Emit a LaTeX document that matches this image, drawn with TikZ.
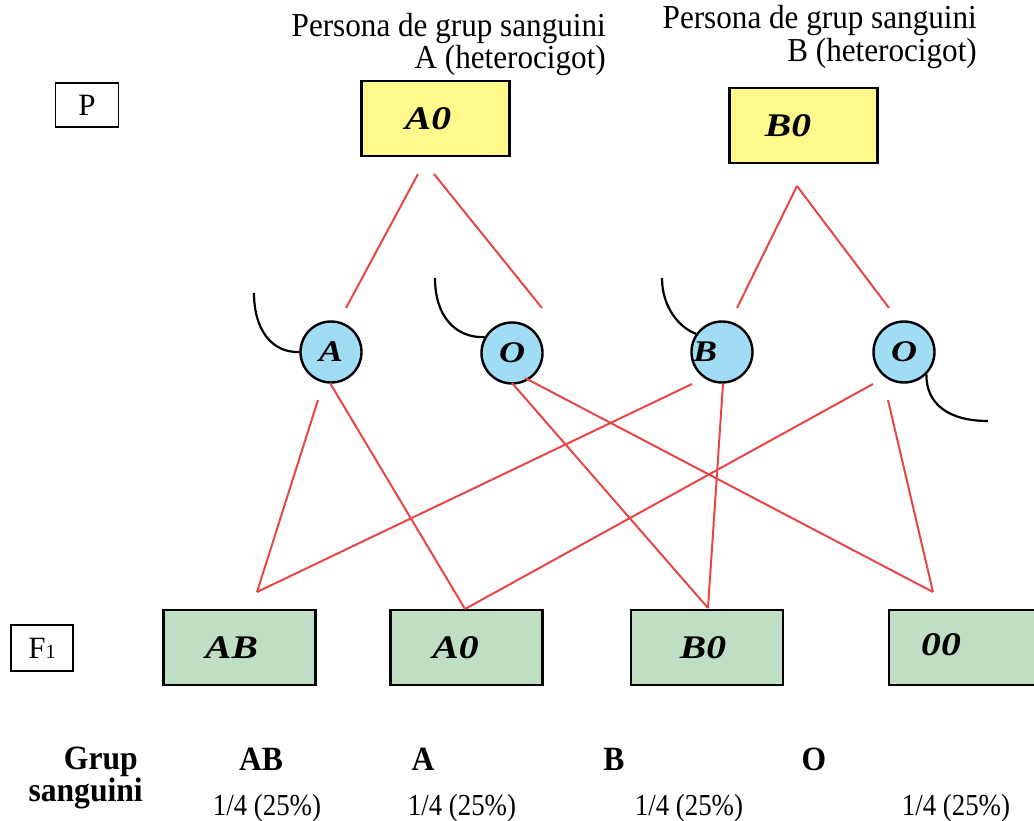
\documentclass[tikz,border=0pt]{standalone}
\usepackage{fontspec}
\setmainfont{Liberation Serif}[FakeStretch=0.88]
\newfontfamily\boxf{Liberation Serif}[FakeStretch=1.2]
\newfontfamily\plainf{Liberation Serif}
\newfontfamily\labf{Liberation Serif}[FakeStretch=0.93]
\definecolor{lred}{RGB}{230,70,70}
\definecolor{yel}{RGB}{255,249,140}
\definecolor{grn}{RGB}{192,222,196}
\definecolor{blu}{RGB}{160,221,245}
\begin{document}
\begin{tikzpicture}[x=1pt,y=-1pt,
  parent/.style={draw=black,line width=2.4pt,fill=yel,minimum width=148pt,minimum height=75pt,inner sep=0pt,font=\boxf\fontsize{33}{33}\selectfont\bfseries\itshape},
  child/.style={draw=black,line width=2.4pt,fill=grn,minimum width=152pt,minimum height=75pt,inner sep=0pt,font=\boxf\fontsize{33}{33}\selectfont\bfseries\itshape},
  gam/.style={circle,draw=black,line width=2.4pt,fill=blu,minimum size=61pt,inner sep=0pt,font=\boxf\fontsize{30}{30}\selectfont\bfseries\itshape},
  gen/.style={draw=black,line width=1.6pt,inner sep=0pt,font=\plainf\fontsize{31}{31}\selectfont},
  cross/.style={lred,line width=2pt},
  tail/.style={black,line width=2.2pt},
  lab/.style={inner sep=0pt,font=\labf\fontsize{33.5}{33.5}\selectfont},
  grp/.style={inner sep=0pt,font=\labf\fontsize{34}{34}\selectfont\bfseries},
  frac/.style={inner sep=0pt,font=\fontsize{30.5}{30.5}\selectfont}]
\useasboundingbox (0,0) rectangle (1034,821);
% generation labels
\node[gen,minimum width=63pt,minimum height=44pt] (P) at (87,105) {P};
\node[gen,minimum width=62pt,minimum height=46pt] (F) at (42,648) {F{\fontsize{20}{20}\selectfont 1}};
% parent descriptions
\node[lab,anchor=base east] (t1a) at (606,37) {Persona de grup sanguini};
\node[lab,anchor=base east] (t1b) at (606,69) {A (heterocigot)};
\node[lab,anchor=base east] (t2a) at (977,29) {Persona de grup sanguini};
\node[lab,anchor=base east] (t2b) at (977,62) {B (heterocigot)};
% parents
\node[parent] (pA) at (435.5,118.5) {\hspace*{-15pt}A0};
\node[parent] (pB) at (803.5,125.5) {\hspace*{-31pt}\raisebox{-4pt}{B0}};
% gametes
\node[gam] (gA) at (331,352) {A};
\node[gam] (gO1) at (512,353) {\raisebox{-3pt}{O}};
\node[gam] (gB) at (722,352) {\hspace*{-34pt}\raisebox{-2pt}{B}};
\node[gam] (gO2) at (904,352) {O};
% children
\node[child] (cAB) at (239.5,647.5) {\hspace*{-16pt}AB};
\node[child] (cA0) at (466.5,647.5) {\hspace*{-22pt}\raisebox{-2pt}{A0}};
\node[child] (cB0) at (707,647.5) {\hspace*{-8pt}B0};
\node[child,minimum width=146pt] (cOO) at (962,647.5) {\hspace*{-42pt}\raisebox{6pt}{00}};
% connection points
\coordinate (aL) at (418,174);
\coordinate (aR) at (434,174);
\coordinate (bT) at (797,186);
\coordinate (gAt) at (346,308);
\coordinate (gO1t) at (542,308);
\coordinate (gBt) at (737,308);
\coordinate (gO2t) at (889,308);
\coordinate (kAB) at (257,592);
\coordinate (kA0) at (465,609);
\coordinate (kB0) at (708,608);
\coordinate (kOO) at (933,592);
\coordinate (gAb1) at (318,400);
\coordinate (gAb2) at (330,383);
\coordinate (gO1b1) at (512,383);
\coordinate (gO1b2) at (525,378);
\coordinate (gBb1) at (692,384);
\coordinate (gBb2) at (723,384);
\coordinate (gO2b1) at (873,384);
\coordinate (gO2b2) at (888,400);
% parent to gametes
\draw[cross] (aL) -- (gAt);
\draw[cross] (aR) -- (gO1t);
\draw[cross] (bT) -- (gBt);
\draw[cross] (bT) -- (gO2t);
% gametes to children
\draw[cross] (gAb1) -- (kAB);
\draw[cross] (gBb1) -- (kAB);
\draw[cross] (gAb2) -- (kA0);
\draw[cross] (gO2b1) -- (kA0);
\draw[cross] (gO1b1) -- (kB0);
\draw[cross] (gBb2) -- (kB0);
\draw[cross] (gO1b2) -- (kOO);
\draw[cross] (gO2b2) -- (kOO);
% tails
\coordinate (tA) at (254,293);
\coordinate (tO1) at (435,278);
\coordinate (tB) at (662,278);
\coordinate (tO2) at (988,421);
\draw[tail] (tA) .. controls (254,330) and (272,353) .. (gA.west);
\draw[tail] (tO1) .. controls (435,316) and (455,338) .. (gO1.150);
\draw[tail] (tB) .. controls (662,308) and (680,328) .. (gB.145);
\draw[tail] (gO2.-45) .. controls (926,405) and (950,421) .. (tO2);
% bottom texts
\node[grp,anchor=base east] (g1) at (138,769) {Grup};
\node[grp,anchor=base east] (g2) at (143,801) {sanguini};
\node[grp,anchor=base] (bAB) at (261,770) {AB};
\node[grp,anchor=base] (bA) at (423,770) {A};
\node[grp,anchor=base] (bB) at (614,770) {B};
\node[grp,anchor=base] (bO) at (814,770) {O};
\node[frac,anchor=base] (f1) at (267,815) {1/4 (25\%)};
\node[frac,anchor=base] (f2) at (462,815) {1/4 (25\%)};
\node[frac,anchor=base] (f3) at (689,815) {1/4 (25\%)};
\node[frac,anchor=base] (f4) at (956,815) {1/4 (25\%)};
\end{tikzpicture}
\end{document}
